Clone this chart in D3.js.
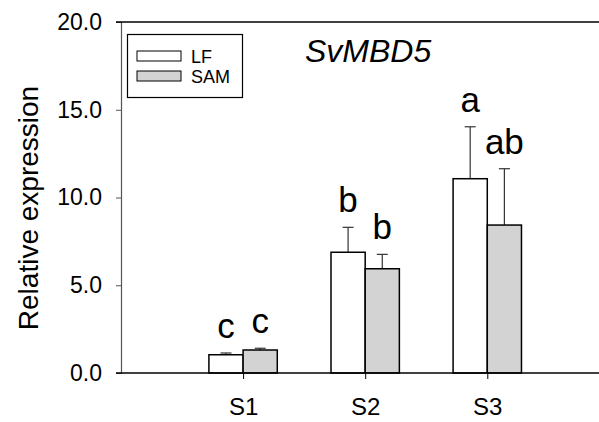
<!DOCTYPE html>
<html>
<head>
<meta charset="utf-8">
<script src="https://cdn.jsdelivr.net/npm/d3@7"></script>
<style>
  body { margin: 0; background: #fff; }
  svg { display: block; font-family: "Liberation Sans", Arial, sans-serif; }
</style>
</head>
<body>
<script>
// stages on the x axis
var stages = ['S1', 'S2', 'S3'];
// mean relative expression per tissue
var lfValues = [1.04, 6.88, 11.07];
var samValues = [1.31, 5.94, 8.43];
// error (upper bar only)
var lfErrors = [0.10, 1.42, 2.96];
var samErrors = [0.10, 0.82, 3.21];
// significance letters
var lfLetters = ['c', 'b', 'a'];
var samLetters = ['c', 'b', 'ab'];
var yTicks = [0, 5, 10, 15, 20];

var w = 599;
var h = 422;
var plotLeft = 121;
var plotTop = 22;
var plotBottom = 373;
var barW = 0.28; // in x units

var x = d3.scaleLinear().domain([0, 3.915]).range([plotLeft, w]);
var y = d3.scaleLinear().domain([0, 20]).range([plotBottom, plotTop]);

var svg = d3.select('body')
  .append('svg')
  .attr('width', w)
  .attr('height', h);

// build one record per bar
var bars = [];
stages.forEach(function(s, i) {
  bars.push({stage: i + 1, offset: -barW, value: lfValues[i], err: lfErrors[i], letter: lfLetters[i], fill: '#ffffff'});
  bars.push({stage: i + 1, offset: 0, value: samValues[i], err: samErrors[i], letter: samLetters[i], fill: '#d3d3d3'});
});

var barCenter = function(d) { return x(d.stage + d.offset + barW / 2); };

// error bars (upper only)
var errG = svg.append('g').attr('stroke', '#333').attr('stroke-width', 1.2);
errG.selectAll('.stem')
  .data(bars)
  .enter()
  .append('line')
  .attr('x1', barCenter)
  .attr('x2', barCenter)
  .attr('y1', function(d) { return y(d.value); })
  .attr('y2', function(d) { return y(d.value + d.err); });
errG.selectAll('.cap')
  .data(bars)
  .enter()
  .append('line')
  .attr('x1', function(d) { return barCenter(d) - 5.5; })
  .attr('x2', function(d) { return barCenter(d) + 5.5; })
  .attr('y1', function(d) { return y(d.value + d.err); })
  .attr('y2', function(d) { return y(d.value + d.err); });

svg.selectAll('rect.bar')
  .data(bars)
  .enter()
  .append('rect')
  .attr('class', 'bar')
  .attr('x', function(d) { return x(d.stage + d.offset); })
  .attr('y', function(d) { return y(d.value); })
  .attr('width', function(d) { return x(barW) - x(0); })
  .attr('height', function(d) { return y(0) - y(d.value); })
  .attr('fill', function(d) { return d.fill; })
  .attr('stroke', '#000')
  .attr('stroke-width', 1.5);

// letters above the error bars
svg.selectAll('.letter')
  .data(bars)
  .enter()
  .append('text')
  .attr('class', 'letter')
  .attr('x', barCenter)
  .attr('y', function(d) { return y(d.value + d.err) - 15; })
  .attr('text-anchor', 'middle')
  .style('font-size', '35px')
  .text(function(d) { return d.letter; });

// y axis
var yAxis = d3.axisLeft(y)
  .tickValues(yTicks)
  .tickSize(5)
  .tickPadding(14)
  .tickFormat(d3.format('.1f'));
var yG = svg.append('g')
  .attr('transform', 'translate(' + plotLeft + ',0)')
  .call(yAxis);
yG.select('.domain').attr('stroke', '#555').attr('stroke-width', 1.2);
yG.selectAll('.tick line').attr('stroke', '#555');
yG.selectAll('.tick text')
  .style('font-size', '23px')
  .style('font-family', '"Liberation Sans", Arial, sans-serif')
  .attr('fill', '#000');

// x axis
var xAxis = d3.axisBottom(x)
  .tickValues([1, 2, 3])
  .tickSize(6)
  .tickPadding(19)
  .tickFormat(function(d) { return stages[d - 1]; });
var xG = svg.append('g')
  .attr('transform', 'translate(0,' + plotBottom + ')')
  .call(xAxis);
xG.select('.domain').attr('stroke', '#000').attr('stroke-width', 1.5)
  .attr('d', 'M' + (plotLeft - 5) + ',0H' + w);
xG.selectAll('.tick line').attr('stroke', '#000');
xG.selectAll('.tick text')
  .style('font-size', '24px')
  .style('font-family', '"Liberation Sans", Arial, sans-serif')
  .attr('fill', '#000');

// top border
svg.append('line')
  .attr('x1', plotLeft - 5)
  .attr('x2', w)
  .attr('y1', y(20))
  .attr('y2', y(20))
  .attr('stroke', '#000')
  .attr('stroke-width', 1.5);

// y label
svg.append('text')
  .attr('transform', 'translate(38,208) rotate(-90)')
  .attr('text-anchor', 'middle')
  .style('font-size', '28px')
  .text('Relative expression');

// title
svg.append('text')
  .attr('x', 305)
  .attr('y', 62)
  .style('font-size', '32px')
  .style('font-style', 'italic')
  .text('SvMBD5');

// legend
var legend = svg.append('g');
legend.append('rect')
  .attr('x', 127.5)
  .attr('y', 34.5)
  .attr('width', 115)
  .attr('height', 63)
  .attr('fill', '#fff')
  .attr('stroke', '#000')
  .attr('stroke-width', 1.2);
var legendItems = [{label: 'LF', fill: '#ffffff'}, {label: 'SAM', fill: '#d3d3d3'}];
legend.selectAll('.swatch')
  .data(legendItems)
  .enter()
  .append('rect')
  .attr('x', 137)
  .attr('y', function(d, i) { return 51 + i * 20; })
  .attr('width', 44)
  .attr('height', 10)
  .attr('fill', function(d) { return d.fill; })
  .attr('stroke', '#000')
  .attr('stroke-width', 1);
legend.selectAll('.ltext')
  .data(legendItems)
  .enter()
  .append('text')
  .attr('x', 191)
  .attr('y', function(d, i) { return 63 + i * 20; })
  .style('font-size', '18px')
  .text(function(d) { return d.label; });
</script>
</body>
</html>
